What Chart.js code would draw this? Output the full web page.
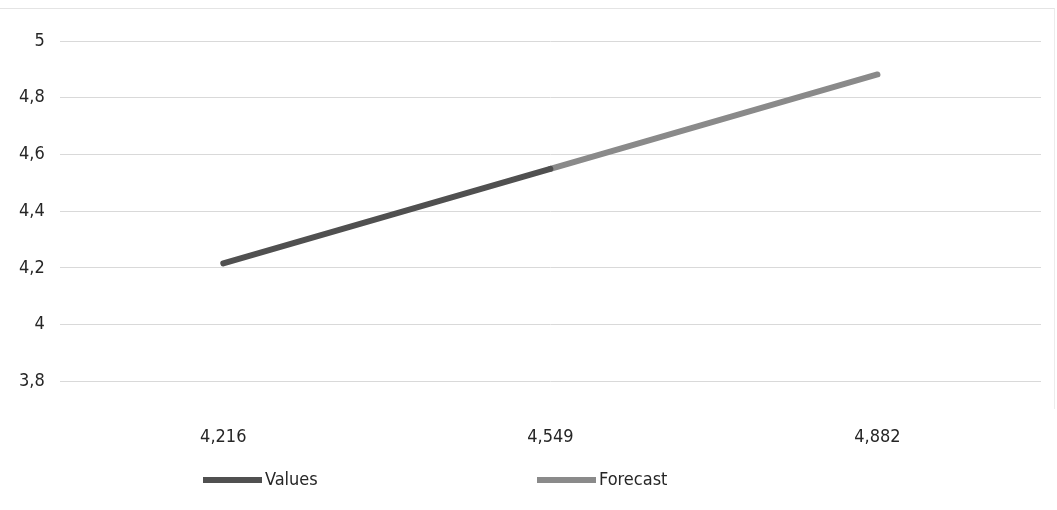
<!DOCTYPE html>
<html>
<head>
<meta charset="utf-8">
<script src="https://cdn.jsdelivr.net/npm/chart.js@4.4.1/dist/chart.umd.min.js"></script>
<style>
  html, body { margin: 0; padding: 0; background: #fff; }
  #wrap { position: relative; width: 1057px; height: 510px; }
  #frame { position: absolute; left: 0; top: 8px; width: 1054px; height: 400px;
           border-top: 1px solid #e4e4e4; border-right: 1px solid #ececec; pointer-events: none; }
  canvas { position: absolute; left: 0; top: 0; }
</style>
</head>
<body>
<div id="wrap">
  <canvas id="chart" width="1057" height="510"></canvas>
  <div id="frame"></div>
</div>
<script>
// Category labels along the x axis
const categories = ['4,216', '4,549', '4,882'];
// Observed values and the forecast continuation
const values   = [4.216, 4.549, null];
const forecast = [null, 4.549, 4.882];
// Y axis range and step
const yMin = 3.8;
const yMax = 5;
const yStep = 0.2;

const FONT = '"Liberation Sans Narrow", "DejaVu Sans Condensed", "Liberation Sans", sans-serif';

// Legend drawn below the x labels, line samples followed by the series names
const bottomLegend = {
  id: 'bottomLegend',
  afterDraw(chart) {
    const ctx = chart.ctx;
    const xs = [203, 537];
    const y = 480;
    ctx.save();
    ctx.font = '18px ' + FONT;
    ctx.textBaseline = 'middle';
    chart.data.datasets.forEach((ds, i) => {
      const x = xs[i];
      ctx.strokeStyle = ds.borderColor;
      ctx.lineWidth = 6;
      ctx.lineCap = 'butt';
      ctx.beginPath();
      ctx.moveTo(x, y);
      ctx.lineTo(x + 59, y);
      ctx.stroke();
      ctx.fillStyle = '#262626';
      ctx.fillText(ds.label, x + 62, y);
    });
    ctx.restore();
  }
};

new Chart(document.getElementById('chart'), {
  type: 'line',
  data: {
    labels: categories,
    datasets: [
      { label: 'Values',   data: values,   borderColor: '#505050', borderWidth: 6,
        pointRadius: 0, borderCapStyle: 'round', spanGaps: false },
      { label: 'Forecast', data: forecast, borderColor: '#8a8a8a', borderWidth: 6,
        pointRadius: 0, borderCapStyle: 'round', spanGaps: false }
    ]
  },
  options: {
    responsive: false,
    animation: false,
    layout: { padding: { left: 4, right: 16, top: 41, bottom: 25 } },
    plugins: {
      legend: { display: false },
      tooltip: { enabled: false }
    },
    scales: {
      x: {
        offset: true,
        grid: { display: false },
        border: { display: false },
        ticks: { color: '#262626', font: { family: FONT, size: 18 }, padding: 37, maxRotation: 0 }
      },
      y: {
        min: yMin,
        max: yMax,
        grid: { color: '#d9d9d9', lineWidth: 1, drawTicks: false },
        border: { display: false },
        ticks: {
          stepSize: yStep,
          color: '#262626',
          font: { family: FONT, size: 18 },
          padding: 15,
          callback: v => String(Math.round(v * 10) / 10).replace('.', ',')
        }
      }
    }
  },
  plugins: [bottomLegend]
});
</script>
</body>
</html>
